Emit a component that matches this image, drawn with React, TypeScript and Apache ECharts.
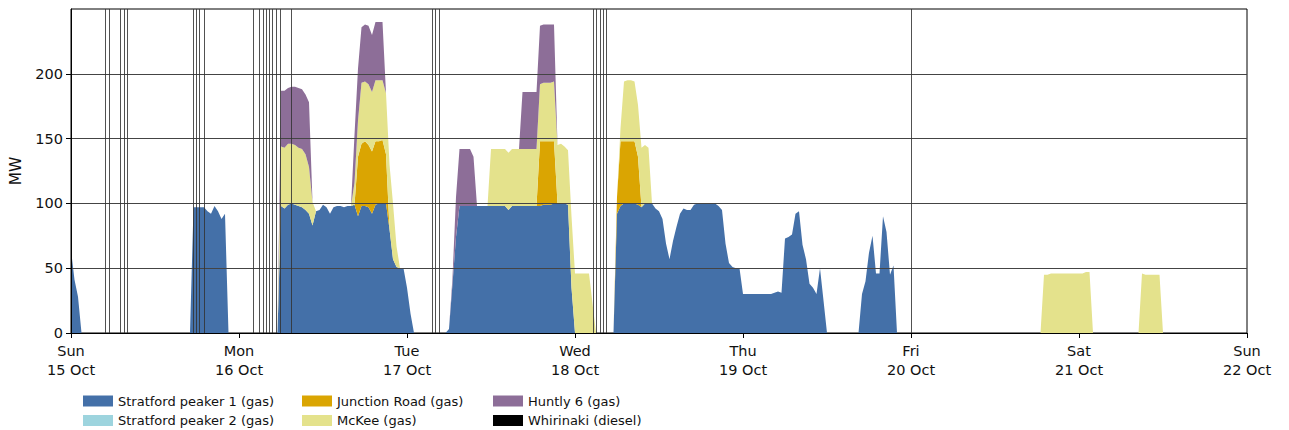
import React, { useEffect, useRef } from 'react';
import * as echarts from 'echarts';

// Hours since Sun 15 Oct 00:00, sampled every half hour
const HOURS_IN_WEEK = 168;
const STEP = 0.5;
const SAMPLES_PER_DAY = 24 / STEP;

const dayNames = ['Sun', 'Mon', 'Tue', 'Wed', 'Thu', 'Fri', 'Sat', 'Sun'];
const dayDates = ['15 Oct', '16 Oct', '17 Oct', '18 Oct', '19 Oct', '20 Oct', '21 Oct', '22 Oct'];
const yTicks = [0, 50, 100, 150, 200];

// Each run: [start hour, MW values every half hour from that start]
type Run = [number, number[]];

const stratford1: Run[] = [
  [0, [64, 41, 28, 0]],
  [17, [0, 97, 97, 97, 97, 94, 92, 98, 94, 88, 92, 0]],
  [29.5, [0, 98, 96, 99, 100, 99, 98, 97, 95, 92, 83, 94, 95, 99, 97, 92, 97, 98, 98, 97,
    98, 98, 99, 90, 98, 98, 97, 92, 99, 100, 100, 100, 80, 57, 51, 50, 50, 35, 15, 0]],
  [53.5, [0, 3, 38, 74, 98, 98, 98, 98, 98, 98, 98, 98, 98, 98, 98, 98, 98, 98, 95,
    98, 98, 98, 98, 98, 98, 98, 98, 98, 99, 99, 99, 100, 100, 100, 100, 99, 35, 0]],
  [77.5, [0, 92, 98, 100, 100, 100, 100, 99, 97, 100, 100, 100, 96, 94, 88, 69, 57, 71, 82, 92,
    96, 95, 95, 99, 100, 100, 100, 100, 100, 100, 98, 95, 69, 54, 51, 50, 50, 30, 30, 30,
    30, 30, 30, 30, 30, 30, 31, 32, 31, 73, 74, 76, 92, 94, 68, 57, 38, 35, 30, 50, 25, 0]],
  [112.5, [0, 30, 40, 62, 75, 46, 46, 90, 78, 45, 52, 0]],
];

const stratford2: Run[] = [];

const junctionRoad: Run[] = [
  [40.5, [0, 46, 48, 50, 48, 48, 49, 48, 49, 38, 0]],
  [66.5, [0, 50, 49, 49, 49, 48, 0]],
  [77.5, [0, 13, 50, 48, 48, 48, 48, 37, 0]],
];

const mckee: Run[] = [
  [29.5, [0, 46, 47, 47, 46, 46, 45, 45, 43, 36, 18, 0]],
  [40, [0, 17, 28, 47, 46, 47, 46, 47, 47, 46, 47, 50, 43, 16, 0]],
  [59.5, [0, 44, 44, 44, 44, 44, 44, 44, 44, 44, 44, 44, 44, 44, 44, 44, 45, 45, 45, 46,
    45, 46, 44, 42, 55, 46, 46, 46, 46, 46, 23, 0]],
  [78, [0, 10, 46, 47, 47, 46, 40, 46, 45, 43, 0]],
  [138.5, [0, 45, 45, 46, 46, 46, 46, 46, 46, 46, 46, 46, 46, 47, 47, 0]],
  [152.5, [0, 46, 45, 45, 45, 45, 45, 0]],
];

const huntly6: Run[] = [
  [29.5, [0, 43, 44, 43, 44, 45, 46, 46, 46, 50, 0]],
  [40, [0, 37, 40, 43, 44, 45, 44, 45, 45, 45, 0]],
  [54, [0, 5, 31, 44, 44, 44, 44, 38, 0]],
  [64, [0, 44, 44, 44, 44, 44, 45, 45, 45, 45, 44, 0]],
];

const whirinaki: Run[] = [];

// Short Whirinaki dispatch events (hour of each)
const whirinakiEvents = [4.9, 5.5, 7.0, 7.6, 8.0, 17.5, 17.9, 18.3, 19.0,
  26.0, 26.9, 27.4, 27.9, 28.3, 28.8, 29.3, 29.9, 31.5,
  51.6, 52.1, 52.6, 74.6, 75.1, 75.6, 76.0, 76.4, 120.0];

const timeGrid = Array.from({ length: HOURS_IN_WEEK / STEP + 1 }, (_, i) => i * STEP);

function toValues(runs: Run[]): number[] {
  const values = timeGrid.map(() => 0);
  runs.forEach(([start, vals]) => {
    const offset = Math.round(start / STEP);
    vals.forEach((v, i) => {
      values[offset + i] = v;
    });
  });
  return values;
}

const FONT = "'DejaVu Sans', sans-serif";

const stackedGenerators = [
  { name: 'Stratford peaker 1 (gas)', color: '#4470A8', runs: stratford1 },
  { name: 'Stratford peaker 2 (gas)', color: '#9DD4DE', runs: stratford2 },
  { name: 'Junction Road (gas)', color: '#DAA502', runs: junctionRoad },
  { name: 'McKee (gas)', color: '#E4E28C', runs: mckee },
  { name: 'Huntly 6 (gas)', color: '#8D6E98', runs: huntly6 },
];
const whirinakiName = 'Whirinaki (diesel)';

export default function App() {
  const ref = useRef<HTMLDivElement>(null);

  useEffect(() => {
    if (!ref.current) return;
    const chart = echarts.init(ref.current, undefined, { renderer: 'svg' });

    const series: any[] = stackedGenerators.map((g) => ({
      name: g.name,
      type: 'line',
      stack: 'generation',
      xAxisIndex: 0,
      data: toValues(g.runs),
      symbol: 'none',
      showSymbol: false,
      color: g.color,
      itemStyle: { color: g.color },
      lineStyle: { width: 0, color: g.color },
      areaStyle: { color: g.color, opacity: 1 },
      z: 2,
      silent: true,
    }));

    // Whirinaki sits on the hour axis; its short runs are drawn as vertical markers
    const whirinakiValues = toValues(whirinaki);
    series.push({
      name: whirinakiName,
      type: 'line',
      xAxisIndex: 1,
      data: timeGrid.map((h, i) => [h, whirinakiValues[i]]),
      symbol: 'none',
      showSymbol: false,
      color: '#000000',
      itemStyle: { color: '#000000' },
      lineStyle: { width: 0, color: '#000000' },
      z: 3,
      silent: true,
      markLine: {
        silent: true,
        symbol: ['none', 'none'],
        label: { show: false },
        lineStyle: { color: '#333333', width: 1, type: 'solid', opacity: 0.85 },
        emphasis: { disabled: true },
        data: whirinakiEvents.map((h) => ({ xAxis: h })),
      },
    });

    const legendItem = (left: number, names: string[]) => ({
      orient: 'vertical',
      icon: 'rect',
      itemWidth: 30,
      itemHeight: 11,
      itemGap: 6.5,
      left,
      top: 394.5,
      height: 40,
      padding: 0,
      textStyle: { fontFamily: FONT, fontSize: 13, lineHeight: 13, color: '#111' },
      selectedMode: false,
      data: names,
    });

    chart.setOption({
      animation: false,
      backgroundColor: '#ffffff',
      textStyle: { fontFamily: FONT },
      grid: {
        left: 71,
        right: 42,
        top: 9,
        bottom: 97,
        outerBoundsMode: 'none',
        containLabel: false,
        show: true,
        borderColor: '#000',
        borderWidth: 1,
        backgroundColor: 'transparent',
      },
      legend: [
        legendItem(83, [stackedGenerators[0].name, stackedGenerators[1].name]),
        legendItem(302, [stackedGenerators[2].name, stackedGenerators[3].name]),
        legendItem(493, [stackedGenerators[4].name, whirinakiName]),
      ],
      xAxis: [
        {
          type: 'category',
          data: timeGrid.map((h) => String(h)),
          boundaryGap: false,
          z: 5,
          axisLine: { show: true, lineStyle: { color: '#000', width: 1 } },
          axisTick: {
            show: true,
            length: 5,
            lineStyle: { color: '#000' },
            interval: (index: number) => index % SAMPLES_PER_DAY === 0,
          },
          splitLine: { show: false },
          axisLabel: {
            margin: 8,
            fontFamily: FONT,
            fontSize: 14.5,
            lineHeight: 19,
            color: '#111',
            interval: (index: number) => index % SAMPLES_PER_DAY === 0,
            formatter: (_v: string, index: number) => {
              const d = Math.round(index / SAMPLES_PER_DAY);
              return `${dayNames[d]}\n${dayDates[d]}`;
            },
          },
        },
        {
          type: 'value',
          min: 0,
          max: HOURS_IN_WEEK,
          show: false,
        },
      ],
      yAxis: {
        type: 'value',
        min: 0,
        max: 250,
        interval: 50,
        z: 5,
        name: 'MW',
        nameLocation: 'middle',
        nameGap: 47,
        nameTextStyle: { fontFamily: FONT, fontSize: 15.5, color: '#111' },
        axisLine: { show: true, lineStyle: { color: '#000', width: 1 } },
        axisTick: { show: true, length: 5, lineStyle: { color: '#000' }, customValues: yTicks },
        splitLine: { show: true, lineStyle: { color: '#444', width: 1 } },
        axisLabel: {
          margin: 8,
          fontFamily: FONT,
          fontSize: 14.5,
          color: '#111',
          customValues: yTicks,
          formatter: (v: number) => (yTicks.includes(v) ? String(v) : ''),
        },
      },
      series,
    });

    return () => chart.dispose();
  }, []);

  return (
    <div
      ref={ref}
      style={{ position: 'fixed', left: 0, top: 0, width: 1289, height: 430, background: '#fff' }}
    />
  );
}
